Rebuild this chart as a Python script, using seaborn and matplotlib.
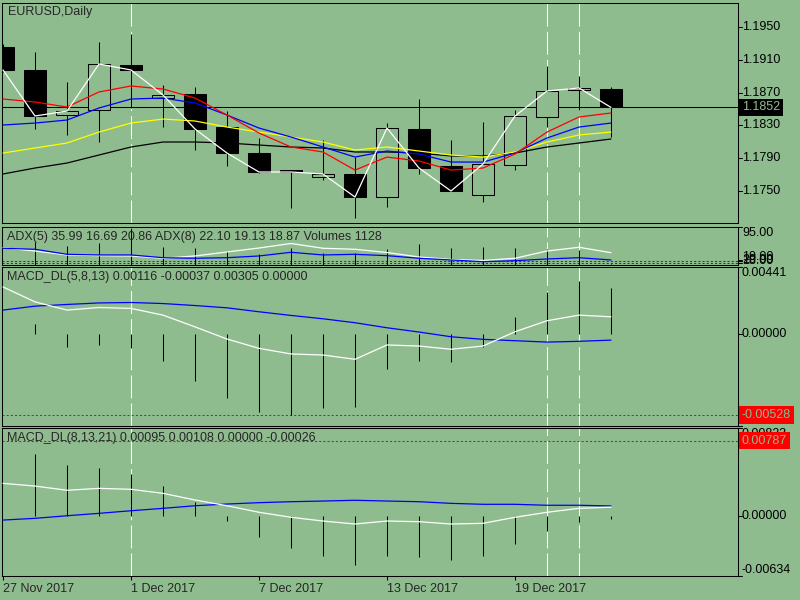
"""EURUSD Daily chart, MetaTrader style: candles + MAs, ADX/volumes, two MACD panels."""

import matplotlib
matplotlib.use("Agg")
import matplotlib.pyplot as plt
import seaborn as sns

BG = "#8FBC8F"
FONT = 9

# ---- price panel data (20 daily bars, 27 Nov - 22 Dec 2017) ----
bars = list(range(20))
opens = [1.19259, 1.18978, 1.18427, 1.18488, 1.19039, 1.18635, 1.18684, 1.18280, 1.17962, 1.17754,
         1.17669, 1.17706, 1.17424, 1.18256, 1.17803, 1.17449, 1.17816, 1.18403, 1.18733, 1.18745]
highs = [1.19296, 1.19198, 1.18831, 1.19320, 1.19418, 1.18794, 1.18770, 1.18476, 1.18146, 1.17754,
         1.18121, 1.17913, 1.18329, 1.18623, 1.18121, 1.18342, 1.18488, 1.19027, 1.18904, 1.18770]
lows = [1.18953, 1.18256, 1.18183, 1.18097, 1.18513, 1.18280, 1.17999, 1.17803, 1.17718, 1.17290,
        1.17632, 1.17167, 1.17302, 1.17706, 1.17498, 1.17363, 1.17754, 1.18280, 1.18488, 1.18158]
closes = [1.18978, 1.18415, 1.18476, 1.19051, 1.18978, 1.18672, 1.18256, 1.17962, 1.17730, 1.17730,
          1.17706, 1.17424, 1.18268, 1.17779, 1.17498, 1.17828, 1.18415, 1.18721, 1.18758, 1.18520]
ma_red = [1.18623, 1.18586, 1.18525, 1.18709, 1.18782, 1.18745, 1.18635, 1.18427, 1.18207, 1.18036,
          1.17975, 1.17754, 1.17913, 1.17865, 1.17754, 1.17779, 1.17950, 1.18219, 1.18403, 1.18452]
ma_blue = [1.18305, 1.18329, 1.18366, 1.18513, 1.18623, 1.18635, 1.18574, 1.18427, 1.18268, 1.18158,
           1.18036, 1.17913, 1.17987, 1.17950, 1.17852, 1.17852, 1.17962, 1.18146, 1.18280, 1.18329]
ma_yellow = [1.17962, 1.18024, 1.18085, 1.18219, 1.18329, 1.18378, 1.18354, 1.18280, 1.18219, 1.18158,
             1.18097, 1.17999, 1.18036, 1.17987, 1.17938, 1.17913, 1.17975, 1.18097, 1.18183, 1.18219]
ma_black = [1.17706, 1.17779, 1.17840, 1.17938, 1.18036, 1.18097, 1.18097, 1.18085, 1.18060, 1.18036,
            1.18024, 1.17975, 1.17975, 1.17962, 1.17926, 1.17926, 1.17962, 1.18036, 1.18085, 1.18134]
last_price = 1.1852
price_ticks = [1.1950, 1.1910, 1.1870, 1.1830, 1.1790, 1.1750]

# ---- ADX / volumes panel ----
adx5 = [47.3, 39.8, 30.8, 29.2, 28.5, 23.3, 28.5, 37.6, 46.6, 56.9,
        46.0, 43.7, 36.4, 26.2, 20.5, 18.3, 23.3, 39.8, 48.2, 35.99]
adx8 = [46.0, 43.7, 32.3, 30.8, 30.8, 24.6, 23.3, 24.6, 28.5, 36.9,
        30.8, 32.3, 29.2, 23.3, 19.4, 15.5, 17.8, 21.7, 24.6, 19.4]
volumes = [None, 60.9, 51.9, 57.3, 91.4, 49.6, 47.3, 40.5, 32.3, 47.3,
           34.6, 34.6, 44.4, 55.7, 46.0, 48.2, 46.0, 44.4, 42.1, 10.3]
adx_levels = [17.1, 11.9]

# ---- MACD_DL(5,8,13) ----
macd1_main = [0.00312, 0.00214, 0.00160, 0.00177, 0.00171, 0.00127, 0.00050, -0.00030, -0.00091, -0.00128,
              -0.00135, -0.00163, -0.00069, -0.00076, -0.00097, -0.00076, 0.00018, 0.00090, 0.00127, 0.00116]
macd1_signal = [0.00160, 0.00186, 0.00197, 0.00207, 0.00210, 0.00203, 0.00190, 0.00175, 0.00149, 0.00125,
                0.00103, 0.00077, 0.00044, 0.00016, -0.00015, -0.00032, -0.00041, -0.00050, -0.00045, -0.00037]
macd1_hist = [None, 0.00068, -0.00082, -0.00069, -0.00087, -0.00172, -0.00303, -0.00414, -0.00506, -0.00528,
              -0.00486, -0.00479, -0.00228, -0.00172, -0.00179, -0.00082, 0.00112, 0.00279, 0.00351, 0.00305]
macd1_min = -0.00528

# ---- MACD_DL(8,13,21) ----
macd2_main = [0.00343, 0.00315, 0.00271, 0.00291, 0.00281, 0.00239, 0.00170, 0.00110, 0.00042, -0.00010,
              -0.00049, -0.00080, -0.00049, -0.00056, -0.00080, -0.00073, -0.00010, 0.00042, 0.00083, 0.00095]
macd2_signal = [-0.00039, -0.00021, 0.00006, 0.00031, 0.00058, 0.00083, 0.00110, 0.00128, 0.00142, 0.00152,
                0.00159, 0.00167, 0.00159, 0.00152, 0.00135, 0.00125, 0.00125, 0.00115, 0.00115, 0.00108]
macd2_hist = [None, 0.00645, 0.00534, 0.00506, 0.00440, 0.00315, 0.00146, -0.00049, -0.00212, -0.00327,
              -0.00410, -0.00507, -0.00410, -0.00420, -0.00455, -0.00410, -0.00285, -0.00153, -0.00056, -0.00026]
macd2_max = 0.00787

date_ticks = [0, 4, 8, 12, 16]
date_labels = ["27 Nov 2017", "1 Dec 2017", "7 Dec 2017", "13 Dec 2017", "19 Dec 2017"]
marked_bars = [4, 17, 18]

sns.set_theme(style="white", rc={"axes.facecolor": BG, "figure.facecolor": BG,
                                 "axes.edgecolor": "black", "axes.linewidth": 0.75})
plt.rcParams["font.family"] = ["Liberation Sans", "DejaVu Sans"]

W, H = 800, 600
fig = plt.figure(figsize=(8, 6), dpi=100)


def panel(top, bottom):
    ax = fig.add_axes([2 / W, 1 - bottom / H, 736 / W, (bottom - top) / H])
    ax.set_xlim(-1 / 32, 735 / 32)
    ax.set_xticks([])
    ax.set_yticks([])
    for s in ax.spines.values():
        s.set_color("black")
        s.set_linewidth(0.75)
    for b in marked_bars:
        ax.axvline(b, color="white", lw=0.75, ls=(0, (22, 5)), zorder=1)
    return ax


def right_label(ax, y, text, va="center", box=None, color="black"):
    kw = {}
    if box:
        kw["bbox"] = dict(boxstyle="square,pad=0.22", fc=box, ec="none")
    ax.text(1 + 4 / 736, y, text, transform=ax.get_yaxis_transform(), ha="left", va=va,
            fontsize=FONT, color=color, clip_on=False, **kw)
    ax.plot([1, 1 + 4 / 736], [y, y], transform=ax.get_yaxis_transform(), color="black",
            lw=0.75, clip_on=False)


def lineplot(ax, y, color, z):
    pts = [(x, v) for x, v in zip(bars, y) if v is not None]
    sns.lineplot(x=[p[0] for p in pts], y=[p[1] for p in pts], ax=ax, color=color,
                 lw=0.9, legend=False, zorder=z)
    ax.set_xlabel("")
    ax.set_ylabel("")


def legend_text(ax, height_px, text):
    ax.text(5 / 736, 1 - 10 / height_px, text, transform=ax.transAxes, fontsize=FONT,
            ha="left", va="center")


# ---- main price panel ----
ax1 = panel(3, 223.3)
ax1.set_ylim(1.17103, 1.19797)
ax1.axhline(last_price, color="black", lw=0.75, zorder=1.5)
ax1.vlines(bars, lows, highs, color="black", lw=0.75, zorder=2)
body_bottom = [min(o, c) for o, c in zip(opens, closes)]
body_height = [max(abs(c - o), 0.00003) for o, c in zip(opens, closes)]
body_fill = ["black" if c < o else BG for o, c in zip(opens, closes)]
ax1.bar(bars, body_height, bottom=body_bottom, width=0.69, color=body_fill,
        edgecolor="black", linewidth=0.75, zorder=2.5)
lineplot(ax1, ma_black, "black", 3)
lineplot(ax1, ma_yellow, "yellow", 3)
lineplot(ax1, ma_blue, "blue", 3)
lineplot(ax1, ma_red, "red", 3)
lineplot(ax1, closes, "white", 4)
for p in price_ticks:
    right_label(ax1, p, f"{p:.4f}")
right_label(ax1, last_price, f"{last_price:.4f}", box="black", color=BG)
ax1.text(6 / 736, 1 - 9 / 220.3, "EURUSD,Daily", transform=ax1.transAxes, fontsize=FONT,
         ha="left", va="center")

# ---- ADX / volumes panel ----
ax2 = panel(226.7, 265)
ax2.set_ylim(8, 95)
for lv in adx_levels:
    ax2.axhline(lv, color="#006400", lw=0.75, ls=(0, (2, 2)), zorder=1.5)
vb = [b for b, v in zip(bars, volumes) if v is not None]
vv = [v for v in volumes if v is not None]
ax2.vlines(vb, 8, vv, color="black", lw=0.75, zorder=2)
lineplot(ax2, adx5, "white", 3)
lineplot(ax2, adx8, "blue", 3)
right_label(ax2, 95, "95.00", va="top")
right_label(ax2, 20.0, "20.00")
right_label(ax2, adx_levels[0], "18.00")
right_label(ax2, adx_levels[1], "19.00", va="bottom")
legend_text(ax2, 38.3, "ADX(5) 35.99 16.69 20.86 ADX(8) 22.10 19.13 18.87 Volumes 1128")

# ---- MACD_DL(5,8,13) ----
ax3 = panel(267.3, 425.7)
ax3.set_ylim(-0.00599, 0.00441)
ax3.axhline(macd1_min, color="red", lw=0.75, ls=(0, (2, 2)), zorder=1.5)
hb = [b for b, v in zip(bars, macd1_hist) if v is not None]
hv = [v for v in macd1_hist if v is not None]
ax3.vlines(hb, 0, hv, color="black", lw=0.75, zorder=2)
lineplot(ax3, macd1_signal, "blue", 3)
lineplot(ax3, macd1_main, "white", 3)
right_label(ax3, 0.00441, "0.00441", va="top")
right_label(ax3, 0.0, "0.00000")
right_label(ax3, -0.00599, "-0.00599", va="bottom")
right_label(ax3, macd1_min, f"{macd1_min:.5f}", box="red", color=BG)
legend_text(ax3, 158.4, "MACD_DL(5,8,13) 0.00116 -0.00037 0.00305 0.00000")

# ---- MACD_DL(8,13,21) ----
ax4 = panel(428.3, 575.7)
ax4.set_ylim(-0.00618, 0.00916)
ax4.axhline(macd2_max, color="red", lw=0.75, ls=(0, (2, 2)), zorder=1.5)
hb = [b for b, v in zip(bars, macd2_hist) if v is not None]
hv = [v for v in macd2_hist if v is not None]
ax4.vlines(hb, 0, hv, color="black", lw=0.75, zorder=2)
lineplot(ax4, macd2_signal, "blue", 3)
lineplot(ax4, macd2_main, "white", 3)
right_label(ax4, 0.00916, "0.00823", va="top")
right_label(ax4, 0.0, "0.00000")
right_label(ax4, -0.00618, "-0.00634", va="bottom")
right_label(ax4, macd2_max, f"{macd2_max:.5f}", box="red", color=BG)
legend_text(ax4, 147.4, "MACD_DL(8,13,21) 0.00095 0.00108 0.00000 -0.00026")

ax4.set_xticks(date_ticks)
ax4.set_xticklabels(date_labels, fontsize=FONT)
ax4.tick_params(axis="x", bottom=True, length=3, width=0.75, pad=2, color="black")
for lbl in ax4.get_xticklabels():
    lbl.set_horizontalalignment("left")

fig.savefig("out.png", dpi=100, facecolor=BG)
